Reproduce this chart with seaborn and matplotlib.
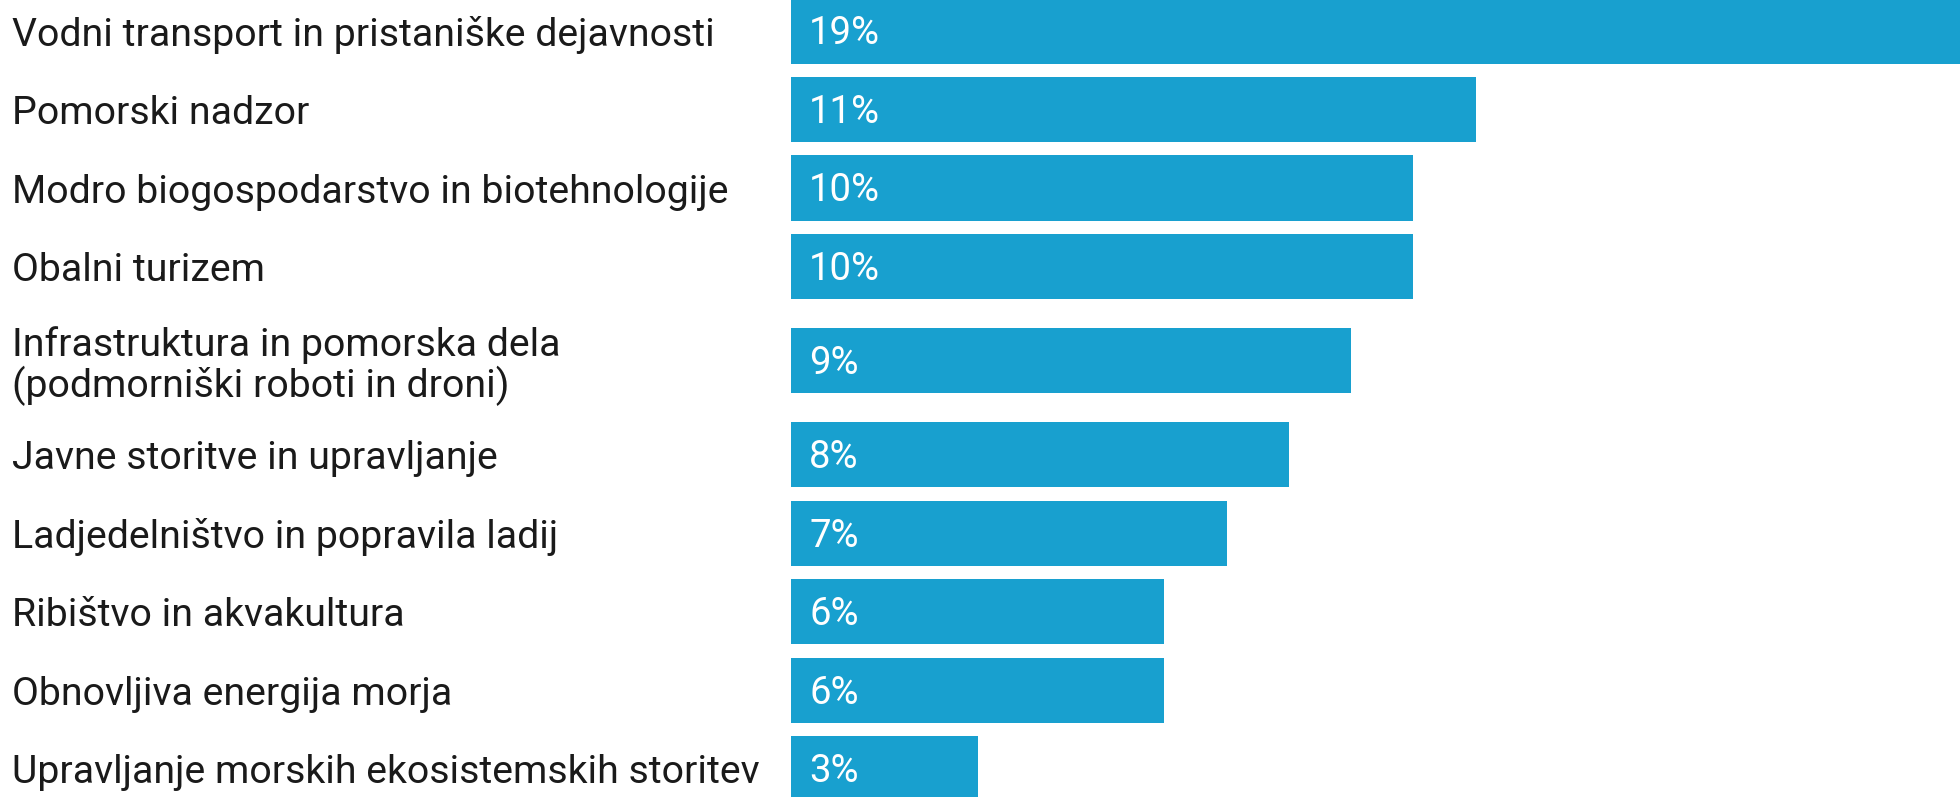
import matplotlib
matplotlib.use("Agg")
import matplotlib.pyplot as plt
import numpy as np
import pandas as pd
import seaborn as sns

categories = [
    "Vodni transport in pristaniške dejavnosti",
    "Pomorski nadzor",
    "Modro biogospodarstvo in biotehnologije",
    "Obalni turizem",
    "Infrastruktura in pomorska dela\n(podmorniški roboti in droni)",
    "Javne storitve in upravljanje",
    "Ladjedelništvo in popravila ladij",
    "Ribištvo in akvakultura",
    "Obnovljiva energija morja",
    "Upravljanje morskih ekosistemskih storitev",
]
shares = [19, 11, 10, 10, 9, 8, 7, 6, 6, 3]

BAR_COLOR = "#18a0cf"

sns.set_style("white")
plt.rcParams["font.family"] = ["Roboto", "DejaVu Sans"]

# rows with two-line labels get a bit more room
lines = np.array([c.count("\n") + 1 for c in categories])
row_h = 1 + 0.4 * (lines - 1)
pos = np.cumsum(row_h) - row_h / 2 - row_h[0] / 2

df = pd.DataFrame({"pos": pos, "share": shares})

fig = plt.figure(figsize=(19.6, 7.97), dpi=100)
ax = fig.add_axes([791 / 1960, 0, 1169 / 1960, 1])

sns.barplot(data=df, x="share", y="pos", orient="h", native_scale=True,
            color=BAR_COLOR, saturation=1, width=0.83, linewidth=0, ax=ax)

for p, v in zip(pos, shares):
    ax.annotate(f"{v}%", xy=(0, p), xytext=(13, -2), textcoords="offset points",
                ha="left", va="center", color="white", fontsize=27.5)

ax.set_xlim(0, 18.78)
ax.set_ylim(9.758, -0.395)
ax.set_yticks(pos, categories)
ax.tick_params(axis="y", length=0, pad=561, labelsize=28.3, labelcolor="#1a1a1a")
for lab in ax.get_yticklabels():
    lab.set_ha("left")
    lab.set_linespacing(1.05)
ax.set_xticks([])
ax.set_xlabel("")
ax.set_ylabel("")
sns.despine(ax=ax, left=True, bottom=True)

fig.savefig("out.png", dpi=100)
